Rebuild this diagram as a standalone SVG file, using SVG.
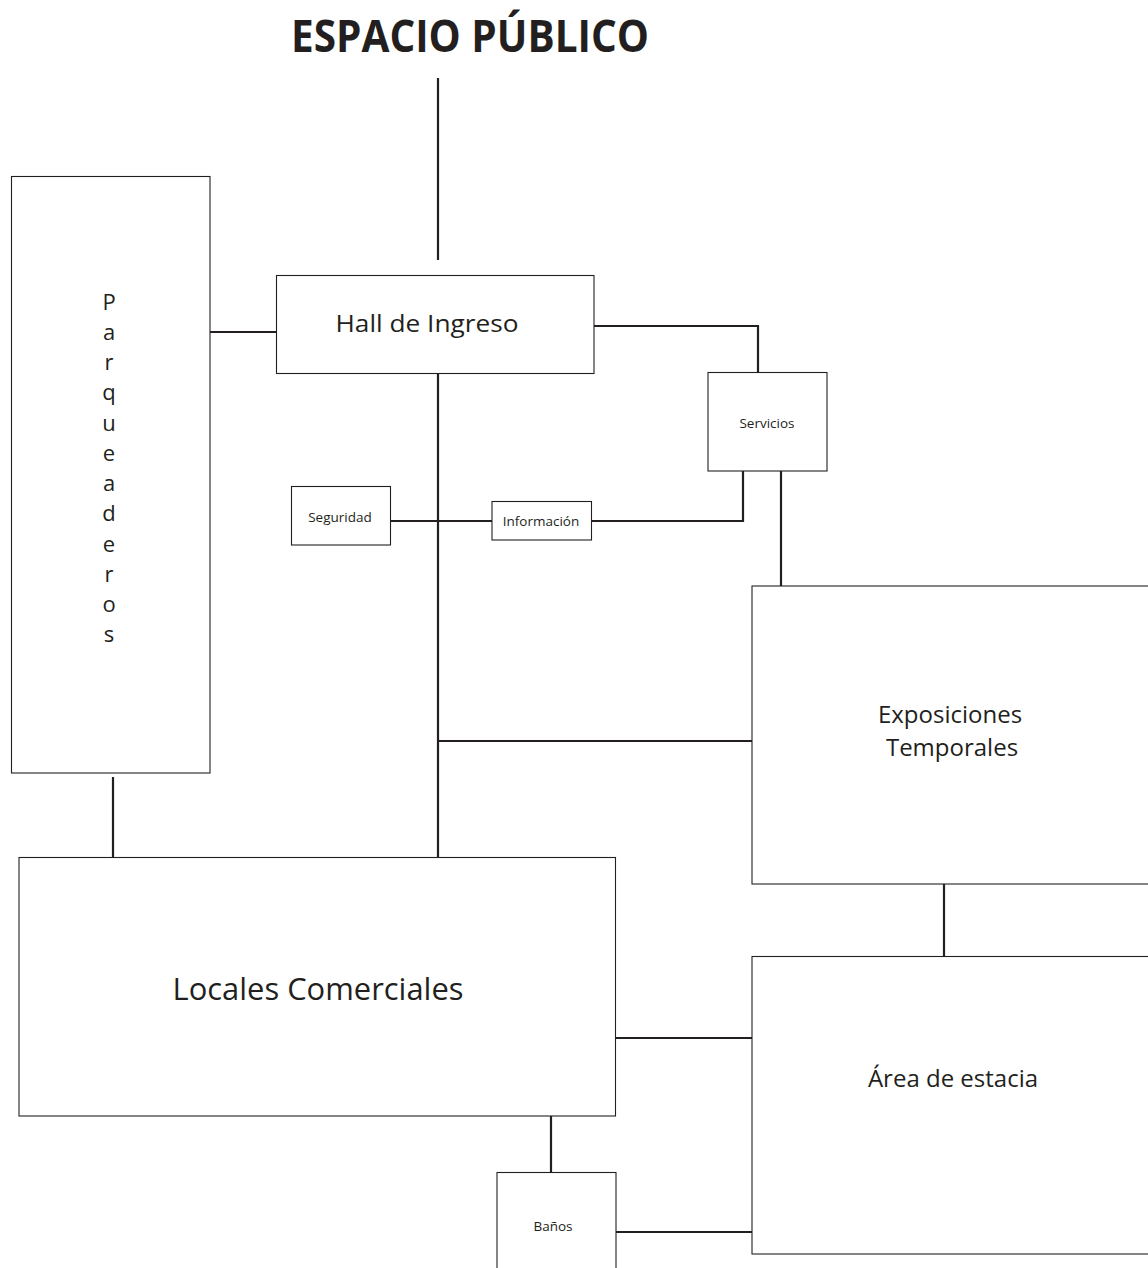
<svg xmlns="http://www.w3.org/2000/svg" width="1148" height="1268" viewBox="0 0 1148 1268">
<style>
  .box { fill: #ffffff; stroke: #231f20; stroke-width: 1.1; }
  .conn { fill: none; stroke: #231f20; stroke-width: 2.2; }
  text { font-family: "Open Sans", "Noto Sans", "DejaVu Sans", sans-serif; fill: #231f20; text-anchor: middle; }
  .title { font-weight: bold; font-size: 45px; }
  .lbl24 { font-size: 24px; }
  .lbl32 { font-size: 31px; }
  .lbl14 { font-size: 13.5px; }
  .vert { font-size: 22px; }
</style>
<rect width="1148" height="1268" fill="#ffffff"/>
<text class="title" x="470" y="52" textLength="358" lengthAdjust="spacingAndGlyphs">ESPACIO PÚBLICO</text>
<g id="connectors">
  <line class="conn" x1="438" y1="78" x2="438" y2="260"/>
  <line class="conn" x1="210" y1="332" x2="276" y2="332"/>
  <polyline class="conn" points="594,326 758,326 758,372"/>
  <line class="conn" x1="438" y1="374" x2="438" y2="857"/>
  <line class="conn" x1="391" y1="521" x2="492" y2="521"/>
  <polyline class="conn" points="592,521 743,521 743,471"/>
  <line class="conn" x1="781" y1="469" x2="781" y2="586"/>
  <line class="conn" x1="438" y1="741" x2="752" y2="741"/>
  <line class="conn" x1="113" y1="777" x2="113" y2="857"/>
  <line class="conn" x1="944" y1="884" x2="944" y2="956"/>
  <line class="conn" x1="616" y1="1038" x2="752" y2="1038"/>
  <line class="conn" x1="551" y1="1116" x2="551" y2="1172"/>
  <line class="conn" x1="616" y1="1232" x2="752" y2="1232"/>
</g>
<g id="parqueaderos">
  <rect class="box" x="11.5" y="176.5" width="198.5" height="596.5"/>
  <text class="vert" x="109" y="310">P</text>
  <text class="vert" x="109" y="340">a</text>
  <text class="vert" x="109" y="370">r</text>
  <text class="vert" x="109" y="400">q</text>
  <text class="vert" x="109" y="431">u</text>
  <text class="vert" x="109" y="461">e</text>
  <text class="vert" x="109" y="491">a</text>
  <text class="vert" x="109" y="521">d</text>
  <text class="vert" x="109" y="552">e</text>
  <text class="vert" x="109" y="582">r</text>
  <text class="vert" x="109" y="612">o</text>
  <text class="vert" x="109" y="642">s</text>
</g>
<g id="hall">
  <rect class="box" x="276.5" y="275.5" width="317.5" height="98"/>
  <text class="lbl24" x="427" y="332" textLength="183" lengthAdjust="spacingAndGlyphs">Hall de Ingreso</text>
</g>
<g id="servicios">
  <rect class="box" x="708" y="372.5" width="119" height="98.5"/>
  <text class="lbl14" x="767" y="428">Servicios</text>
</g>
<g id="seguridad">
  <rect class="box" x="291.5" y="486.5" width="99" height="58.5"/>
  <text class="lbl14" x="340" y="522">Seguridad</text>
</g>
<g id="informacion">
  <rect class="box" x="492" y="501.5" width="99.5" height="38.5"/>
  <text class="lbl14" x="541" y="526">Información</text>
</g>
<g id="exposiciones">
  <rect class="box" x="752" y="586" width="420" height="298"/>
  <text class="lbl24" x="950" y="723">Exposiciones</text>
  <text class="lbl24" x="952" y="756">Temporales</text>
</g>
<g id="locales">
  <rect class="box" x="19" y="857.5" width="596.5" height="258.5"/>
  <text class="lbl32" x="318" y="1000" textLength="291" lengthAdjust="spacingAndGlyphs">Locales Comerciales</text>
</g>
<g id="area">
  <rect class="box" x="752" y="956.5" width="420" height="297.5"/>
  <text class="lbl24" x="953" y="1087">Área de estacia</text>
</g>
<g id="banos">
  <rect class="box" x="497" y="1172.5" width="119" height="120"/>
  <text class="lbl14" x="553" y="1231">Baños</text>
</g>
</svg>
